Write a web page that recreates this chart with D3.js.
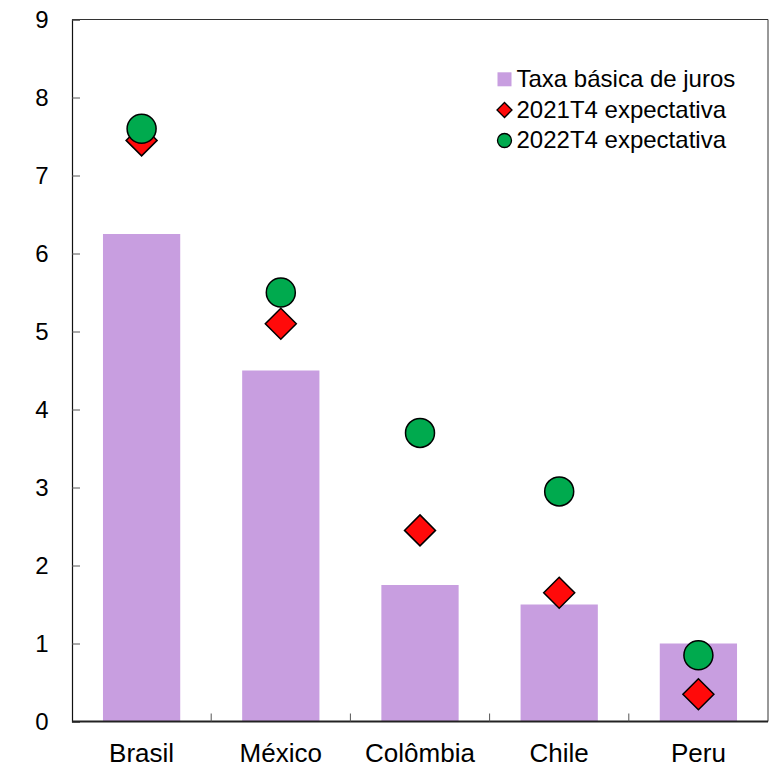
<!DOCTYPE html>
<html>
<head>
<meta charset="utf-8">
<script src="https://cdn.jsdelivr.net/npm/d3@7/dist/d3.min.js"></script>
<style>
  html, body { margin: 0; padding: 0; background: #fff; }
  svg { display: block; font-family: "Liberation Sans", Arial, sans-serif; }
</style>
</head>
<body>
<svg id="chart" width="769" height="768"></svg>
<script>
// Policy rate and market expectations by country (% a.a.)
const categories = ["Brasil", "México", "Colômbia", "Chile", "Peru"];
const taxaBasica = [6.25, 4.5, 1.75, 1.5, 1.0];
const exp2021T4 = [7.45, 5.1, 2.45, 1.65, 0.35];
const exp2022T4 = [7.6, 5.5, 3.7, 2.95, 0.85];
const yTicks = [0, 1, 2, 3, 4, 5, 6, 7, 8, 9];
const legendLabels = ["Taxa básica de juros", "2021T4 expectativa", "2022T4 expectativa"];

const svg = d3.select("#chart");
const m = { left: 72, right: 1, top: 19.5, bottom: 46.5 };
const W = 769, H = 768;

const x = d3.scaleBand().domain(categories)
  .range([m.left, W - m.right]).paddingInner(0.445).paddingOuter(0.2225);
const xBand = d3.scaleBand().domain(categories).range([m.left, W - m.right]);
const y = d3.scaleLinear().domain([0, 9]).range([H - m.bottom, m.top]);

// Frame: top and right edges
svg.append("path")
  .attr("d", `M${m.left},${m.top}H${W - m.right}V${H - m.bottom}`)
  .attr("fill", "none").attr("stroke", "#333").attr("stroke-width", 1);

// Bars
svg.append("g").selectAll("rect").data(categories).join("rect")
  .attr("x", d => x(d))
  .attr("width", x.bandwidth())
  .attr("y", (d, i) => y(taxaBasica[i]))
  .attr("height", (d, i) => y(0) - y(taxaBasica[i]))
  .attr("fill", "#c89ee0");

// Y axis with inward ticks
const yAxis = svg.append("g").attr("transform", `translate(${m.left},0)`)
  .call(d3.axisLeft(y).tickValues(yTicks).tickSize(-8).tickPadding(23.5).tickFormat(d3.format("d")));
yAxis.select(".domain").attr("stroke", "#111").attr("stroke-width", 1.2);
yAxis.selectAll(".tick line").attr("stroke", "#555").attr("stroke-width", 1);
yAxis.selectAll(".tick text").attr("font-size", 24).attr("fill", "#000")
  .attr("font-family", "Liberation Sans, Arial, sans-serif");

// X axis: ticks between categories, pointing up
const xAxisG = svg.append("g").attr("transform", `translate(0,${y(0)})`);
xAxisG.append("line").attr("x1", m.left).attr("x2", W - m.right)
  .attr("stroke", "#222").attr("stroke-width", 2);
xAxisG.selectAll("line.sep").data(categories.slice(1)).join("line")
  .attr("class", "sep")
  .attr("x1", d => xBand(d)).attr("x2", d => xBand(d))
  .attr("y1", 0).attr("y2", -8)
  .attr("stroke", "#555").attr("stroke-width", 1);
xAxisG.selectAll("text").data(categories).join("text")
  .attr("x", d => xBand(d) + xBand.bandwidth() / 2)
  .attr("y", 40)
  .attr("text-anchor", "middle")
  .attr("font-size", 26)
  .attr("fill", "#000")
  .text(d => d);

const cx = d => xBand(d) + xBand.bandwidth() / 2;
const diamond = (s) => `M0,${-s}L${s},0L0,${s}L${-s},0Z`;

// 2021T4 expectations (diamonds)
svg.append("g").selectAll("path").data(categories).join("path")
  .attr("transform", (d, i) => `translate(${cx(d)},${y(exp2021T4[i])})`)
  .attr("d", diamond(15.5))
  .attr("fill", "#ff0a0a").attr("stroke", "#000").attr("stroke-width", 1.5)
  .attr("stroke-linejoin", "miter");

// 2022T4 expectations (circles)
svg.append("g").selectAll("circle").data(categories).join("circle")
  .attr("cx", d => cx(d))
  .attr("cy", (d, i) => y(exp2022T4[i]))
  .attr("r", 14.5)
  .attr("fill", "#00aa4e").attr("stroke", "#000").attr("stroke-width", 1.5);

// Legend
const lg = svg.append("g").attr("transform", "translate(504.5,0)");
const rowY = [79.3, 110, 140.5];
lg.append("rect").attr("x", -7).attr("y", rowY[0] - 7).attr("width", 14).attr("height", 14)
  .attr("fill", "#c89ee0");
lg.append("path").attr("transform", `translate(0,${rowY[1]})`).attr("d", diamond(7.5))
  .attr("fill", "#ff0a0a").attr("stroke", "#000").attr("stroke-width", 1.3);
lg.append("circle").attr("cx", 0).attr("cy", rowY[2]).attr("r", 7)
  .attr("fill", "#00aa4e").attr("stroke", "#000").attr("stroke-width", 1.3);
lg.selectAll("text").data(legendLabels).join("text")
  .attr("x", 12)
  .attr("y", (d, i) => rowY[i] + 7.8)
  .attr("font-size", 24)
  .attr("fill", "#000")
  .text(d => d);
</script>
</body>
</html>
